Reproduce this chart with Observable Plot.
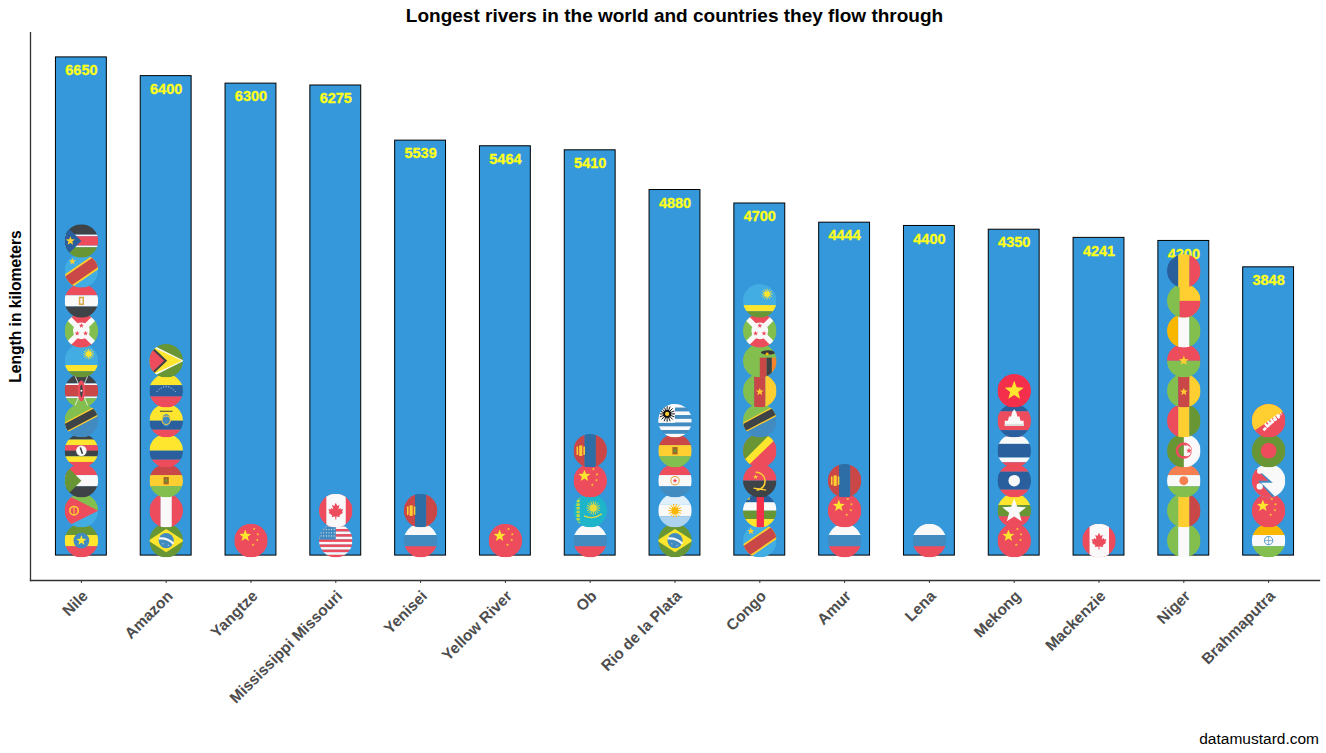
<!DOCTYPE html>
<html><head><meta charset="utf-8">
<script src="https://cdn.jsdelivr.net/npm/d3@7"></script>
<script src="https://cdn.jsdelivr.net/npm/@observablehq/plot@0.6"></script>
<style>
html,body{margin:0;padding:0;background:#fff;overflow:hidden;font-family:"Liberation Sans",Arial,sans-serif}
#title{height:32px;line-height:32px;margin-left:30px;width:1289px;text-align:center;font-weight:bold;font-size:19px;color:#000}
#caption{height:23px;line-height:23px;width:1319px;text-align:right;font-size:15.5px;color:#000}
svg{display:block}
[aria-label="y-axis label"]{font-weight:bold;font-size:15.6px;fill:#000}
</style></head><body>
<div id="title">Longest rivers in the world and countries they flow through</div>
<div id="chart"></div>
<div id="caption">datamustard.com</div>
<script>
const rivers = ["Nile","Amazon","Yangtze","Mississippi Missouri","Yenisei","Yellow River","Ob","Rio de la Plata","Congo","Amur","Lena","Mekong","Mackenzie","Niger","Brahmaputra"];
const lengths = [6650,6400,6300,6275,5539,5464,5410,4880,4700,4444,4400,4350,4241,4200,3848];
// countries of each river, listed from the mouth of the column upward
const nileCountries = ["ethiopia","eritrea","sudan","uganda","tanzania","kenya","rwanda","burundi","egypt","drc","southsudan"];
const amazonCountries = ["brazil","peru","bolivia","colombia","ecuador","venezuela","guyana"];
const yangtzeCountries = ["china"];
const mississippiCountries = ["usa","canada"];
const yeniseiCountries = ["russia","mongolia"];
const yellowCountries = ["china"];
const obCountries = ["russia","kazakhstan","china","mongolia"];
const plataCountries = ["brazil","argentina","paraguay","bolivia","uruguay"];
const congoCountries = ["drc","car","angola","repcongo","tanzania","cameroon","zambia","burundi","rwanda"];
const amurCountries = ["russia","china","mongolia"];
const lenaCountries = ["russia"];
const mekongCountries = ["china","myanmar","laos","thailand","cambodia","vietnam"];
const mackenzieCountries = ["canada"];
const nigerCountries = ["nigeria","mali","niger","algeria","guinea","cameroon","burkina","ivorycoast","benin","chad"];
const brahmaputraCountries = ["india","china","nepal","bangladesh","bhutan"];
const countriesByRiver = [nileCountries,amazonCountries,yangtzeCountries,mississippiCountries,yeniseiCountries,yellowCountries,obCountries,plataCountries,congoCountries,amurCountries,lenaCountries,mekongCountries,mackenzieCountries,nigerCountries,brahmaputraCountries];

const bars = rivers.map((river,i)=>({river,length:lengths[i]}));
const flags = countriesByRiver.flatMap((list,i)=>list.map((country,k)=>({river:rivers[i],country,pos:200+400*k})));

// flag artwork, 64×64 icons
const R="#ed4c5c",G="#83bf4f",DG="#699635",Y="#ffe62e",K="#3e4347",B="#2a5f9e",LB="#42ade2",W="#f9f9f9",O="#ffce31",MB="#428bc1",DR="#c94747",OR="#f9b700";
const rect=(x,y,w,h,c)=>`<rect x="${x}" y="${y}" width="${w}" height="${h}" fill="${c}"/>`;
const circ=(x,y,r,c)=>`<circle cx="${x}" cy="${y}" r="${r}" fill="${c}"/>`;
const ring=(x,y,r,c,w)=>`<circle cx="${x}" cy="${y}" r="${r}" fill="none" stroke="${c}" stroke-width="${w}"/>`;
const poly=(p,c)=>`<polygon points="${p}" fill="${c}"/>`;
const line=(a,b,c,d,col,w,dash)=>`<line x1="${a}" y1="${b}" x2="${c}" y2="${d}" stroke="${col}" stroke-width="${w}"${dash?` stroke-dasharray="${dash}"`:""}/>`;
const star=(x,y,r,c)=>{let p=[];for(let i=0;i<10;i++){const a=-Math.PI/2+i*Math.PI/5,q=i%2?r*0.42:r;p.push((x+q*Math.cos(a)).toFixed(1)+","+(y+q*Math.sin(a)).toFixed(1));}return poly(p.join(" "),c);};
const sun=(x,y,r,c,n=12)=>{let s=circ(x,y,r*0.5,c);for(let i=0;i<n;i++){const a=i*2*Math.PI/n;s+=line(x,y,(x+r*Math.cos(a)).toFixed(1),(y+r*Math.sin(a)).toFixed(1),c,1.8);}return s;};
const h=(...c)=>{const k=64/c.length;return c.map((col,i)=>rect(0,i*k,64,k+.3,col)).join("");};
const v=(...c)=>{const k=64/c.length;return c.map((col,i)=>rect(i*k,0,k+.3,64,col)).join("");};
const maple=(c)=>poly("32,17 29,23 25,21 27,30 23,27 22,30 18,29 20,35 18,36 25,41 24,44 31,43 31,49 33,49 33,43 40,44 39,41 46,36 44,35 46,29 42,30 41,27 37,30 39,21 35,23",c);
const art={
 ethiopia:h(DG,Y,R)+circ(32,32,15,MB)+star(32,32,10,Y),
 eritrea:rect(0,0,64,32,G)+rect(0,32,64,32,LB)+poly("0,0 64,32 0,64",R)+ring(18,32,8,O,3)+line(18,26,18,38,O,2),
 sudan:h(R,W,K)+poly("0,0 32,32 0,64",DG),
 uganda:h(K,Y,R,K,Y,R)+circ(32,32,10,W)+line(30,26,34,38,K,3),
 tanzania:poly("0,0 64,0 64,12 0,46",G)+poly("64,12 0,46 0,64 64,64",MB)+line(-4,48,68,10,O,19)+line(-4,48,68,10,K,14),
 kenya:rect(0,0,64,18,K)+rect(0,18,64,3,W)+rect(0,21,64,22,DR)+rect(0,43,64,3,W)+rect(0,46,64,18,G)+line(20,4,44,60,W,1.5)+line(44,4,20,60,W,1.5)+`<ellipse cx="32" cy="32" rx="7" ry="20" fill="${R}"/>`+`<ellipse cx="32" cy="32" rx="2.5" ry="12" fill="${K}"/>`+circ(32,32,2,W),
 rwanda:rect(0,0,64,40,LB)+rect(0,40,64,12,Y)+rect(0,52,64,12,DG)+sun(46,19,10,Y),
 burundi:v(G,G)+poly("0,0 64,0 32,32",R)+poly("0,64 64,64 32,32",R)+line(2,2,62,62,W,10)+line(62,2,2,62,W,10)+circ(32,32,16,W)+star(32,22,5,R)+star(24,37,5,R)+star(40,37,5,R),
 egypt:h(R,W,K)+rect(27,24,10,16,"#d6a94a")+rect(30,27,4,10,W),
 drc:rect(0,0,64,64,LB)+line(-6,60,70,8,O,28)+line(-6,60,70,8,DR,21)+star(15,14,7,O),
 southsudan:rect(0,0,64,20,K)+rect(0,20,64,3,W)+rect(0,23,64,18,R)+rect(0,41,64,3,W)+rect(0,44,64,20,DG)+poly("0,0 32,32 0,64",B)+star(11,32,9,O),
 brazil:rect(0,0,64,64,DG)+poly("-2,32 32,10 66,32 32,54",Y)+circ(32,32,14.5,MB)+`<path d="M18 28 Q34 26 46 38" fill="none" stroke="${W}" stroke-width="4"/>`+circ(26,38,1,W)+circ(36,41,1,W),
 peru:v(R,W,R),
 bolivia:h(DR,O,G)+rect(27,25,10,14,"#a36629")+circ(32,32,3,DG),
 colombia:rect(0,0,64,32,Y)+rect(0,32,64,17,B)+rect(0,49,64,15,R),
 ecuador:rect(0,0,64,32,Y)+rect(0,32,64,17,B)+rect(0,49,64,15,R)+line(20,14,44,14,K,2)+`<ellipse cx="32" cy="31" rx="8" ry="12" fill="${MB}"/>`+ring(32,31,8,O,2),
 venezuela:h(Y,B,R)+`<path d="M14 34 Q32 14 50 34" fill="none" stroke="${W}" stroke-width="1.6" stroke-dasharray="2 3"/>`,
 guyana:rect(0,0,64,64,DG)+poly("0,-1 66,32 0,65",W)+poly("0,3 62,32 0,61",Y)+poly("0,0 34,32 0,64",K)+poly("0,5 28,32 0,59",R),
 china:rect(0,0,64,64,R)+star(21,23,12,Y)+star(38,10,3,O)+star(45,20,3,O)+star(44,31,3,O)+star(36,40,3,O),
 usa:Array.from({length:13},(_,i)=>rect(0,i*64/13,64,64/13+.2,i%2?W:R)).join("")+rect(0,0,32,30,MB)+Array.from({length:24},(_,i)=>circ(4+(i%6)*5,5+Math.floor(i/6)*6,1,W)).join(""),
 canada:rect(0,0,64,64,R)+rect(14,0,37,64,W)+maple(R),
 russia:h(W,MB,R),
 mongolia:v(DR,"#2c6ea5",DR)+rect(6,24,3,16,O)+rect(11,22,6,20,O)+rect(19,24,3,16,O),
 kazakhstan:rect(0,0,64,64,"#1eb4c9")+sun(38,27,13,"#e8dc3a",16)+`<path d="M20 42 Q38 50 54 38" fill="none" stroke="#e8dc3a" stroke-width="2.5"/>`+line(9,4,9,60,"#c9d93e",6,"5 2"),
 argentina:rect(0,0,64,21,"#e0f0fa")+rect(0,21,64,22,W)+rect(0,43,64,21,"#aed3ee")+sun(32,32,13,OR,14),
 paraguay:h(R,W,MB)+ring(32,32,8,"#e8a33a",2)+star(32,32,5,R),
 uruguay:Array.from({length:9},(_,i)=>rect(0,i*64/9,64,64/9+.2,i%2?MB:W)).join("")+rect(0,0,32,36,W)+sun(17,19,15,"#111",16)+circ(17,19,4,O),
 car:h(B,W,DG,Y)+rect(26,0,14,64,"#f42f4c")+star(10,8,5,Y),
 angola:rect(0,0,64,32,R)+rect(0,32,64,32,K)+`<path d="M24 16 A17 17 0 1 1 26 50" fill="none" stroke="${O}" stroke-width="3"/>`+star(24,25,5,O)+line(20,46,44,50,O,2.5),
 repcongo:rect(0,0,64,64,R)+poly("0,0 64,0 0,64",DG)+poly("6,64 -2,54 54,-2 66,6",Y),
 cameroon:v(G,DR,O)+star(32,34,8,O),
 zambia:rect(0,0,64,64,G)+rect(32,26,13,38,DR)+rect(45,26,10,38,K)+rect(55,26,9,38,"#f2852e")+`<ellipse cx="48" cy="16" rx="14" ry="4" fill="#3b3b3b"/>`+circ(46,19,3,OR),
 myanmar:h(Y,DG,R)+star(32,33,24,W),
 laos:rect(0,0,64,15,R)+rect(0,15,64,34,B)+rect(0,49,64,15,R)+circ(32,32,11,W),
 thailand:rect(0,0,64,5,R)+rect(0,5,64,14,W)+rect(0,19,64,26,B)+rect(0,45,64,9,W)+rect(0,54,64,10,R),
 cambodia:rect(0,0,64,14,B)+rect(0,14,64,36,R)+rect(0,50,64,14,B)+poly("14,42 14,32 20,32 22,24 26,24 28,16 32,10 36,16 38,24 42,24 44,32 50,32 50,42",W)+rect(14,38,36,4,"#ddd"),
 vietnam:rect(0,0,64,64,"#f42f4c")+star(32,32,19,Y),
 mali:v(G,O,DR),
 niger:h("#f57f50",W,G)+circ(32,32,8.5,"#f57f50"),
 nigeria:v(G,W,G),
 algeria:v(DG,W)+ring(32,32,13,R,5)+`<path d="M32 19 A13 13 0 0 1 32 45 A11 13 0 0 0 32 19" fill="${W}"/>`+circ(37,32,10,W)+rect(27,22,5,20,DG)+star(42,32,6,R),
 guinea:v(R,O,DG),
 burkina:rect(0,0,64,32,R)+rect(0,32,64,32,G)+star(32,32,10,O),
 ivorycoast:v(OR,W,G),
 benin:rect(0,0,64,64,G)+rect(24,0,40,32,O)+rect(24,32,40,32,R),
 chad:v(B,O,R),
 india:h(OR,W,G)+ring(32,32,8,MB,1.6)+line(32,24,32,40,MB,1.2)+line(24,32,40,32,MB,1.2),
 bangladesh:rect(0,0,64,64,DG)+circ(32,32,15,R),
 nepal:rect(0,0,64,64,W)+poly("-2,-1 40,36 18,36 48,66 -2,66",MB)+poly("-2,0 31,32 12,32 40,64 -2,64",R)+circ(15,14,5,W)+circ(15,43,6,W),
 bhutan:rect(0,0,64,64,R)+poly("0,54 64,12 64,0 0,0",O)+line(22,50,56,18,W,5,"7 2")+line(26,42,52,22,W,9,"4 3"),
};
const flagSrc=c=>"data:image/svg+xml;charset=utf-8,"+encodeURIComponent(`<svg xmlns="http://www.w3.org/2000/svg" width="128" height="128" viewBox="0 0 64 64">${art[c]}</svg>`);

const chart=Plot.plot({
  width:1326,height:695,
  marginLeft:30,marginRight:7,marginTop:0,marginBottom:147,
  style:{fontFamily:"'Liberation Sans',Arial,sans-serif",background:"#fff"},
  x:{type:"band",domain:rivers,paddingInner:0.4,paddingOuter:0.3,round:false,axis:null,label:null},
  y:{domain:[-332.5,6982.5],axis:null,label:"Length in kilometers"},
  marks:[
    Plot.barY(bars,{x:"river",y:"length",fill:"#3498db",stroke:"#000",strokeWidth:1}),
    Plot.text(bars,{x:"river",y:"length",text:d=>String(d.length),dy:13,fill:"#ffff1a",stroke:"#ffff1a",strokeWidth:0.3,fontSize:14.5,fontWeight:"bold",lineAnchor:"middle"}),
    Plot.image(flags,{x:"river",y:"pos",src:d=>flagSrc(d.country),r:16.8,preserveAspectRatio:"xMidYMid slice"}),
    Plot.frame({anchor:"left",stroke:"#333",strokeWidth:1.3}),
    Plot.frame({anchor:"bottom",stroke:"#333",strokeWidth:1.3}),
    Plot.axisY({ticks:[],tickSize:0,label:"Length in kilometers",labelAnchor:"center",labelArrow:"none",labelOffset:21}),
    Plot.axisX({anchor:"bottom",label:null,text:null,tickSize:3,stroke:"#333"}),
    Plot.axisX({anchor:"bottom",label:null,tickRotate:-45,tickSize:0,tickPadding:6,dx:4,dy:7,fontSize:15.5,fontWeight:"bold",fill:"#4d4d4d"})
  ]
});
document.getElementById("chart").appendChild(chart);
</script></body></html>
